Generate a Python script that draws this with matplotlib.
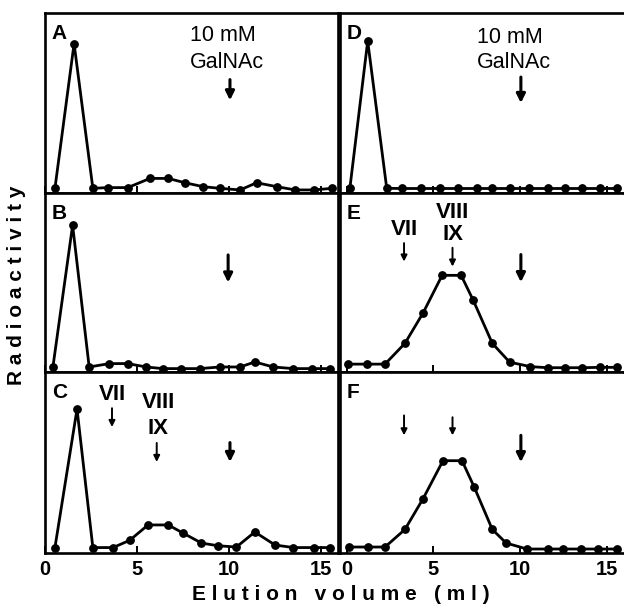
import matplotlib
matplotlib.use("Agg")
import matplotlib.pyplot as plt

# ---------------- data (panel units: 0 = axis bottom, 100 = axis top) ----------------
a_x = [0.54, 1.58, 2.6, 3.4, 4.5, 5.7, 6.7, 7.6, 8.6, 9.5, 10.6, 11.5, 12.6, 13.6, 14.6, 15.6]
a_y = [2.6, 83, 2.6, 3, 3, 8.1, 8.1, 5.7, 3.5, 2.6, 1.7, 5.7, 3.5, 1.7, 1.7, 2.6]

b_x = [0.43, 1.5, 2.4, 3.5, 4.5, 5.5, 6.4, 7.4, 8.4, 9.5, 10.6, 11.4, 12.4, 13.5, 14.5, 15.5]
b_y = [2.8, 82, 2.8, 4.7, 4.7, 2.8, 1.9, 1.9, 1.9, 2.8, 2.8, 5.6, 2.8, 1.9, 1.9, 1.9]

c_x = [0.54, 1.74, 2.6, 3.7, 4.6, 5.6, 6.7, 7.5, 8.5, 9.4, 10.4, 11.4, 12.5, 13.5, 14.6, 15.5]
c_y = [3, 79.5, 3, 3, 7, 15.5, 15.5, 11, 5.5, 4, 3.3, 11.6, 4.4, 3, 3, 3]

d_x = [0.17, 1.2, 2.3, 3.2, 4.3, 5.4, 6.4, 7.5, 8.4, 9.4, 10.5, 11.6, 12.6, 13.6, 14.6, 15.6]
d_y = [2.6, 84.4, 2.6, 2.5, 2.5, 2.5, 2.5, 2.5, 2.5, 2.5, 2.5, 2.5, 2.5, 2.5, 2.5, 2.5]

e_x = [0.06, 1.16, 2.2, 3.35, 4.4, 5.5, 6.6, 7.3, 8.4, 9.4, 10.6, 11.6, 12.6, 13.6, 14.6, 15.6]
e_y = [4.4, 4.4, 4.4, 16, 33, 54, 54, 40, 16, 5.5, 3, 2.4, 2.4, 2.4, 2.6, 2.6]

f_x = [0.1, 1.2, 2.2, 3.35, 4.4, 5.55, 6.65, 7.35, 8.4, 9.2, 10.4, 11.6, 12.5, 13.5, 14.5, 15.6]
f_y = [3.3, 3.3, 3.3, 13, 30, 51, 51, 36.5, 13, 5.5, 2.2, 2.2, 2.2, 2.2, 2.2, 2.2]

x_ticks = [0, 5, 10, 15]
x_tick_labels = ["0", "5", "10", "15"]
panel_letters = ["A", "B", "C", "D", "E", "F"]
galnac_text = ["10 mM", "GalNAc"]
marker_labels = ["VII", "VIII", "IX"]
galnac_pos = 10.05
vii_pos = [3.64, 3.3]
viii_pos = [6.1, 6.1]

# ---------------- figure ----------------
W, H = 624, 609
fig = plt.figure(figsize=(W / 100, H / 100), dpi=100)

def fx(px):
    return px / W

def fy(py):
    return 1 - py / H

rows = [(13, 193), (193, 372), (372, 553)]
cols = [(45, 338, (0.0, 15.92)), (340, 623, (-0.4, 15.95))]

data = [(a_x, a_y), (b_x, b_y), (c_x, c_y), (d_x, d_y), (e_x, e_y), (f_x, f_y)]

bold_font = "Liberation Sans"
axes = []
k = 0
for ci, (l, r, xl) in enumerate(cols):
    for ri, (t, b) in enumerate(rows):
        ax = fig.add_axes([fx(l), fy(b), fx(r) - fx(l), fy(t) - fy(b)])
        ax.set_xlim(*xl)
        ax.set_ylim(0, 100)
        x, y = data[k]
        ax.plot(x, y, color="black", lw=2.0, marker="o", markersize=5.3,
                markerfacecolor="black", markeredgecolor="black", solid_joinstyle="miter")
        for s in ax.spines.values():
            s.set_linewidth(1.9)
        if ci == 1:
            ax.spines["right"].set_visible(False)
        ax.set_yticks([])
        ax.set_xticks(x_ticks)
        ax.tick_params(axis="x", direction="in", length=5, width=1.4, pad=5)
        if ri == 2:
            ax.set_xticklabels(x_tick_labels, fontsize=14.5, fontweight="bold", family=bold_font)
        else:
            ax.set_xticklabels([])
        ax.annotate(panel_letters[k], xy=(0, 1), xycoords="axes fraction",
                    xytext=(5, -8), textcoords="offset points", ha="left", va="top",
                    fontsize=15, fontweight="bold", family=bold_font)
        axes.append(ax)
        k += 1

def arrow(ax, x, y0, y1, big=True):
    if big:
        props = dict(arrowstyle="-|>", lw=2.2, color="black", mutation_scale=13,
                     shrinkA=0, shrinkB=0)
    else:
        props = dict(arrowstyle="-|>", lw=1.4, color="black", mutation_scale=9,
                     shrinkA=0, shrinkB=0)
    ax.annotate("", xy=(x, y1), xytext=(x, y0), arrowprops=props)

axA, axB, axC, axD, axE, axF = axes

# GalNAc text
for ax, xl, y1, y2 in [(axA, 7.88, 87.5, 72.5), (axD, 7.5, 86.5, 72.5)]:
    ax.text(xl, y1, galnac_text[0], ha="left", va="center", fontsize=15.5, family=bold_font)
    ax.text(xl, y2, galnac_text[1], ha="left", va="center", fontsize=15.5, family=bold_font)

# GalNAc arrows
arrow(axA, galnac_pos, 63, 51.5)
arrow(axD, galnac_pos, 64.4, 50)
arrow(axB, 9.95, 65.4, 50)
arrow(axC, galnac_pos, 61, 50.3)
arrow(axE, galnac_pos, 65.6, 50.2)
arrow(axF, galnac_pos, 65, 50.2)

# Marker labels
lab = dict(ha="center", va="center", fontsize=16, fontweight="bold", family=bold_font)
axC.text(vii_pos[0], 87.3, marker_labels[0], **lab)
axC.text(6.15, 83.4, marker_labels[1], **lab)
axC.text(6.15, 69, marker_labels[2], **lab)
arrow(axC, vii_pos[0], 80, 69.6, big=False)
arrow(axC, 6.07, 60.8, 50.3, big=False)

axE.text(vii_pos[1], 79.4, marker_labels[0], **lab)
axE.text(6.07, 89, marker_labels[1], **lab)
axE.text(6.1, 76.7, marker_labels[2], **lab)
arrow(axE, vii_pos[1], 72, 61.7, big=False)
arrow(axE, viii_pos[0], 69.4, 58.9, big=False)

arrow(axF, vii_pos[1], 76, 65, big=False)
arrow(axF, viii_pos[1], 75, 65, big=False)

# axis titles
fig.text(fx(341), fy(595), "E l u t i o n   v o l u m e   ( m l )", ha="center", va="center",
         fontsize=15, fontweight="bold", family=bold_font)
fig.text(fx(17), fy(285), "R a d i o a c t i v i t y", ha="center", va="center",
         rotation=90, fontsize=15, fontweight="bold", family=bold_font)

fig.savefig("out.png", dpi=100)
